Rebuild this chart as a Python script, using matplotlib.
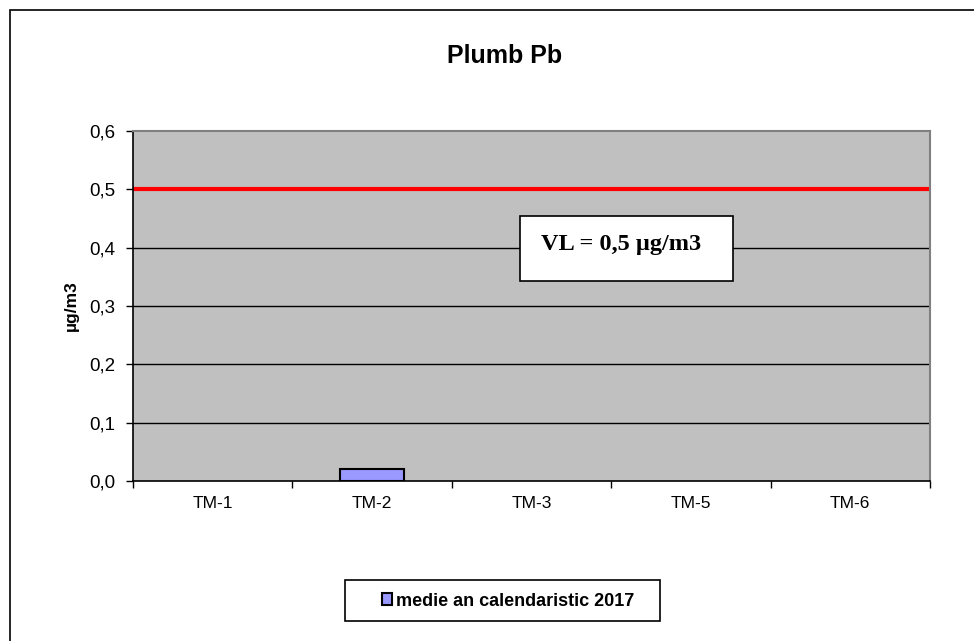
import matplotlib
matplotlib.use("Agg")
import matplotlib.pyplot as plt
from matplotlib.patches import Rectangle
from matplotlib.ticker import FuncFormatter

stations = ["TM-1", "TM-2", "TM-3", "TM-5", "TM-6"]
# only TM-2 reported a value; the other stations show no bar
medie_2017 = [float("nan"), 0.02, float("nan"), float("nan"), float("nan")]
limit_value = 0.5
y_ticks = [0.0, 0.1, 0.2, 0.3, 0.4, 0.5, 0.6]

plt.rcParams["font.family"] = ["Liberation Sans", "DejaVu Sans"]

fig = plt.figure(figsize=(9.74, 6.41), dpi=100)
W, H = 974, 641
ax = fig.add_axes([133 / W, 1 - 481 / H, (930 - 133) / W, (481 - 131) / H])

# outer chart border
fig.patches.append(Rectangle((10 / W, -0.1), 1.2, 1 - 10 / H + 0.1, transform=fig.transFigure,
                             fill=False, edgecolor="black", linewidth=1.2))

ax.set_facecolor("#C0C0C0")
x = list(range(len(stations)))
bars = ax.bar(x, medie_2017, width=0.4, color="#9999FF", edgecolor="black",
              linewidth=1.5, zorder=3, label="medie an calendaristic 2017")

ax.set_xlim(-0.5, len(stations) - 0.5)
ax.set_ylim(0, 0.6)
ax.set_yticks(y_ticks)
ax.yaxis.set_major_formatter(FuncFormatter(lambda v, p: f"{v:.1f}".replace(".", ",")))
for v in y_ticks[1:-1]:
    ax.axhline(v, color="black", linewidth=1, zorder=1)
ax.axhline(limit_value, color="#FF0000", linewidth=3, zorder=2)

ax.set_xticks(x)
ax.set_xticklabels(stations)
ax.set_xticks([i - 0.5 for i in range(len(stations) + 1)], minor=True)
ax.tick_params(axis="x", which="major", length=0, pad=11, labelsize=12.5)
ax.tick_params(axis="x", which="minor", length=5, width=1)
ax.tick_params(axis="y", length=5, width=1, labelsize=13.5, pad=8)

for side in ["top", "right"]:
    ax.spines[side].set_color("#808080")
    ax.spines[side].set_linewidth(1.5)
ax.spines["left"].set_linewidth(1.2)
ax.spines["bottom"].set_linewidth(1.2)

ax.set_ylabel("µg/m3", fontsize=12.5, fontweight="bold")
ax.yaxis.set_label_coords((79 - 133) / 797, 0.5)

fig.text(505 / W, 1 - 63 / H, "Plumb Pb", ha="center", va="baseline",
         fontsize=18, fontweight="bold")

fig.patches.append(Rectangle((520 / W, 1 - 281 / H), (733 - 520) / W, (281 - 216) / H,
                             transform=fig.transFigure, facecolor="white",
                             edgecolor="black", linewidth=1.2, zorder=4))
fig.text(621 / W, 1 - 245 / H, "VL = 0,5 µg/m3", ha="center", va="center",
         fontsize=17.5, fontweight="bold", family=["Liberation Serif", "DejaVu Serif"], zorder=5)

# legend frame drawn separately so its width can match the original
fig.patches.append(Rectangle((345 / W, 1 - 621 / H), (660 - 345) / W, (621 - 580) / H,
                             transform=fig.transFigure, facecolor="white",
                             edgecolor="black", linewidth=1.2, zorder=4))
leg = fig.legend(handles=[bars], labels=["medie an calendaristic 2017"], loc="center",
                 bbox_to_anchor=(508 / W, 1 - 601 / H), frameon=False,
                 prop={"weight": "bold", "size": 13}, handlelength=0.6, handleheight=0.6,
                 handletextpad=0.2, borderpad=0, borderaxespad=0)
leg.set_zorder(5)

fig.savefig("out.png", dpi=100)
